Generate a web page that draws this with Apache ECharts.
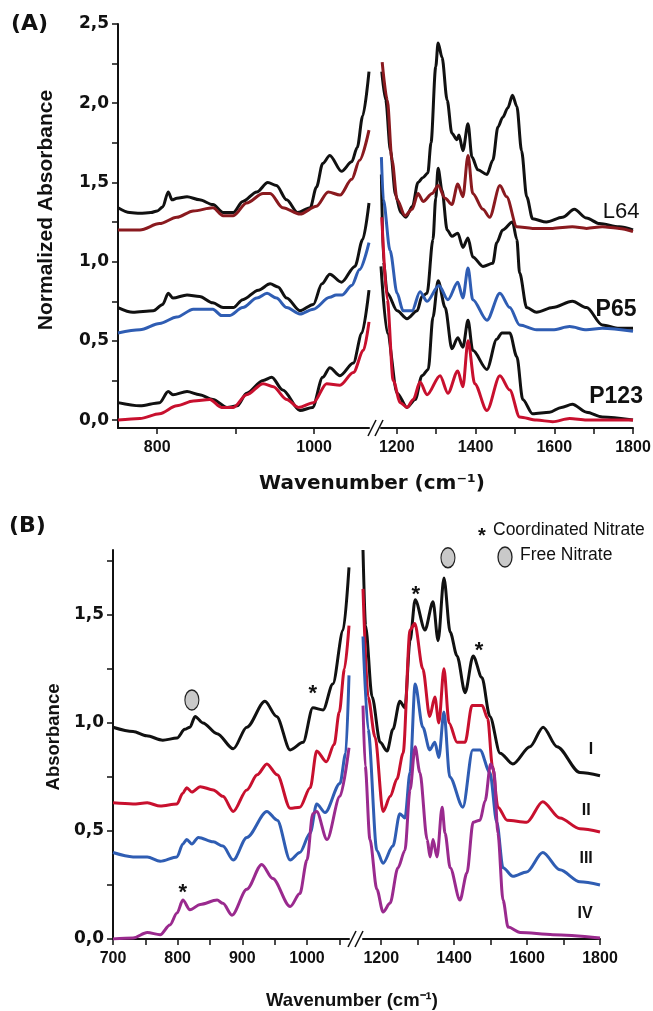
<!DOCTYPE html>
<html><head><meta charset="utf-8">
<script src="https://cdn.jsdelivr.net/npm/echarts@6/dist/echarts.min.js"></script>
<style>html,body{margin:0;padding:0;background:#fff}#c{width:653px;height:1011px}</style>
</head><body><div id="c"></div>
<script>
// ---------- Panel A data (wavenumber, normalized absorbance) ----------
const aL64BlackLeft = [[750,1.34],[765,1.31],[778,1.305],[792,1.31],[800,1.32],[807,1.345],[814,1.44],[819,1.39],[825,1.40],[838,1.41],[854,1.39],[871,1.36],[884,1.31],[897,1.31],[909,1.38],[927,1.44],[941,1.50],[952,1.48],[965,1.39],[979,1.31],[995,1.34],[1003,1.47],[1011,1.62],[1020,1.67],[1035,1.57],[1048,1.63],[1055,1.72],[1062,1.92],[1070,2.20]];
const aL64RedLeft = [[750,1.20],[778,1.20],[803,1.24],[825,1.28],[846,1.32],[871,1.34],[884,1.29],[897,1.29],[914,1.37],[935,1.43],[944,1.43],[960,1.34],[982,1.30],[1003,1.35],[1018,1.44],[1033,1.42],[1048,1.52],[1058,1.64],[1070,1.83]];
const aL64BlackRight = [[1162,2.20],[1172,2.02],[1184,1.70],[1197,1.42],[1210,1.31],[1223,1.28],[1240,1.35],[1254,1.50],[1266,1.53],[1279,1.56],[1287,1.75],[1299,2.23],[1305,2.38],[1315,2.29],[1328,2.02],[1340,1.81],[1353,1.77],[1358,1.80],[1368,1.70],[1381,1.87],[1391,1.66],[1406,1.58],[1429,1.55],[1444,1.64],[1457,1.85],[1469,1.91],[1482,1.97],[1494,2.05],[1505,1.98],[1517,1.70],[1530,1.41],[1545,1.27],[1580,1.25],[1621,1.28],[1651,1.33],[1682,1.275],[1715,1.24],[1765,1.22],[1800,1.20]];
const aL64RedRight = [[1163,2.26],[1176,2.02],[1188,1.64],[1201,1.39],[1221,1.29],[1239,1.33],[1254,1.43],[1267,1.38],[1290,1.43],[1305,1.48],[1323,1.40],[1340,1.36],[1355,1.49],[1368,1.41],[1381,1.67],[1393,1.43],[1419,1.33],[1436,1.28],[1462,1.48],[1479,1.41],[1505,1.22],[1545,1.21],[1596,1.21],[1646,1.22],[1682,1.21],[1722,1.22],[1765,1.21],[1800,1.19]];
const aP65BlackLeft = [[750,0.71],[769,0.68],[795,0.69],[807,0.73],[814,0.80],[820,0.77],[838,0.79],[854,0.78],[871,0.74],[884,0.71],[897,0.71],[909,0.76],[929,0.82],[944,0.86],[954,0.84],[965,0.77],[982,0.69],[999,0.73],[1010,0.86],[1020,0.92],[1035,0.87],[1052,0.97],[1062,1.14],[1070,1.37]];
const aP65BlueLeft = [[750,0.55],[778,0.57],[803,0.61],[825,0.65],[846,0.70],[871,0.70],[882,0.66],[892,0.66],[909,0.71],[927,0.77],[940,0.80],[952,0.77],[965,0.71],[982,0.67],[999,0.70],[1020,0.775],[1028,0.79],[1036,0.79],[1048,0.85],[1058,0.95],[1070,1.12]];
const aP65BlackRight = [[1161,1.55],[1166,1.0],[1176,0.80],[1201,0.69],[1226,0.64],[1252,0.69],[1264,0.78],[1277,0.80],[1292,1.14],[1299,1.40],[1305,1.59],[1315,1.45],[1328,1.20],[1340,1.16],[1355,1.18],[1368,1.09],[1381,1.15],[1393,1.03],[1419,0.97],[1444,0.99],[1454,1.12],[1469,1.20],[1494,1.25],[1505,1.14],[1512,0.93],[1530,0.71],[1555,0.68],[1596,0.71],[1646,0.75],[1682,0.71],[1722,0.60],[1765,0.58],[1800,0.58]];
const aP65BlueRight = [[1161,1.66],[1166,1.39],[1183,1.07],[1201,0.80],[1216,0.69],[1239,0.69],[1259,0.81],[1277,0.75],[1307,0.85],[1330,0.76],[1355,0.87],[1368,0.77],[1381,0.96],[1393,0.76],[1429,0.63],[1462,0.80],[1487,0.71],[1512,0.60],[1555,0.57],[1596,0.57],[1639,0.59],[1682,0.57],[1722,0.58],[1800,0.56]];
const aP123BlackLeft = [[750,0.11],[778,0.09],[803,0.11],[814,0.18],[820,0.16],[838,0.18],[854,0.16],[871,0.13],[889,0.08],[902,0.09],[914,0.17],[935,0.25],[946,0.27],[960,0.19],[982,0.06],[998,0.08],[1011,0.27],[1020,0.33],[1033,0.28],[1050,0.36],[1061,0.55],[1070,0.82]];
const aP123RedLeft = [[750,0.0],[778,0.01],[803,0.04],[825,0.09],[846,0.12],[867,0.13],[882,0.08],[897,0.08],[914,0.16],[935,0.23],[948,0.21],[965,0.13],[980,0.08],[999,0.11],[1016,0.23],[1033,0.22],[1050,0.30],[1063,0.44],[1070,0.62]];
const aP123BlackRight = [[1160,0.97],[1176,0.55],[1201,0.17],[1226,0.08],[1247,0.13],[1264,0.28],[1280,0.32],[1292,0.65],[1305,0.88],[1323,0.71],[1340,0.45],[1355,0.52],[1368,0.46],[1381,0.63],[1393,0.44],[1429,0.32],[1454,0.51],[1467,0.55],[1487,0.55],[1505,0.40],[1520,0.13],[1545,0.04],[1588,0.05],[1618,0.08],[1646,0.10],[1682,0.05],[1722,0.02],[1800,0.0]];
const aP123RedRight = [[1162,1.28],[1176,0.76],[1191,0.25],[1209,0.11],[1226,0.08],[1242,0.13],[1259,0.24],[1277,0.16],[1310,0.28],[1330,0.17],[1355,0.31],[1368,0.21],[1381,0.50],[1398,0.23],[1429,0.06],[1462,0.28],[1487,0.19],[1512,0.02],[1555,0.0],[1596,-0.01],[1639,0.01],[1682,0.0],[1800,0.0]];

// ---------- Panel B data (wavenumber, absorbance) ----------
const bILeft = [[700,0.98],[731,0.96],[752,0.94],[777,0.92],[799,0.93],[811,0.97],[819,0.98],[827,1.03],[839,1.00],[861,0.95],[886,0.88],[907,0.98],[935,1.10],[953,1.03],[974,0.875],[994,0.91],[1009,1.07],[1025,1.06],[1040,1.18],[1056,1.43],[1065,1.72]];
const bIRight = [[1150,1.80],[1157,1.45],[1175,1.12],[1197,0.91],[1216,0.87],[1232,0.97],[1251,1.10],[1265,1.07],[1279,1.38],[1293,1.57],[1320,1.43],[1342,1.56],[1356,1.38],[1372,1.67],[1389,1.42],[1408,1.31],[1430,1.14],[1452,1.31],[1476,1.21],[1498,1.03],[1526,0.86],[1561,0.81],[1608,0.89],[1644,0.98],[1682,0.89],[1745,0.77],[1800,0.755]];
const bIILeft = [[700,0.63],[731,0.625],[753,0.63],[773,0.615],[799,0.625],[808,0.675],[814,0.70],[822,0.68],[835,0.705],[855,0.69],[870,0.66],[886,0.59],[907,0.69],[923,0.76],[938,0.81],[954,0.76],[974,0.605],[989,0.61],[1005,0.70],[1015,0.87],[1030,0.82],[1042,0.90],[1050,1.05],[1058,1.25],[1065,1.45]];
const bIIRight = [[1150,1.62],[1164,1.12],[1183,0.935],[1205,0.59],[1225,0.66],[1243,0.74],[1260,0.86],[1279,1.43],[1292,1.46],[1314,1.25],[1333,1.03],[1347,1.12],[1358,1.00],[1372,1.25],[1386,1.00],[1408,0.91],[1430,0.91],[1449,1.08],[1477,1.08],[1492,1.02],[1505,0.80],[1520,0.61],[1545,0.55],[1599,0.54],[1643,0.635],[1690,0.56],[1745,0.51],[1800,0.495]];
const bIIILeft = [[700,0.40],[731,0.38],[753,0.38],[773,0.36],[799,0.38],[808,0.44],[814,0.46],[822,0.44],[832,0.47],[855,0.45],[870,0.43],[886,0.365],[907,0.47],[938,0.59],[954,0.55],[974,0.365],[989,0.40],[1005,0.49],[1015,0.625],[1028,0.585],[1051,0.72],[1060,0.86],[1065,1.22]];
const bIIIRight = [[1150,1.40],[1164,0.97],[1188,0.41],[1205,0.35],[1232,0.43],[1251,0.58],[1265,0.56],[1279,0.77],[1293,1.18],[1314,0.98],[1333,0.875],[1347,0.91],[1358,0.84],[1372,1.05],[1388,0.75],[1424,0.61],[1451,0.875],[1471,0.875],[1498,0.77],[1517,0.54],[1534,0.33],[1561,0.29],[1599,0.31],[1643,0.40],[1690,0.32],[1745,0.265],[1800,0.25]];
const bIVLeft = [[700,0.0],[731,0.005],[753,0.03],[773,0.02],[788,0.065],[799,0.12],[808,0.18],[819,0.135],[835,0.16],[861,0.18],[870,0.165],[884,0.11],[907,0.23],[930,0.345],[947,0.28],[974,0.15],[989,0.21],[1000,0.365],[1009,0.58],[1015,0.59],[1031,0.46],[1051,0.66],[1065,0.885]];
const bIVRight = [[1150,1.08],[1156,0.80],[1169,0.46],[1188,0.23],[1205,0.125],[1224,0.165],[1246,0.33],[1265,0.41],[1279,0.69],[1293,0.89],[1306,0.77],[1326,0.46],[1334,0.38],[1342,0.46],[1353,0.38],[1367,0.61],[1375,0.49],[1389,0.33],[1416,0.18],[1435,0.305],[1452,0.54],[1471,0.55],[1485,0.64],[1500,0.81],[1509,0.78],[1520,0.49],[1534,0.18],[1548,0.055],[1581,0.03],[1671,0.02],[1800,0.005]];

// ---------- tick values ----------
const aXLabelsLeft = [800, 1000];
const aXTicksLeft = [800, 900, 1000];
const aXLabelsRight = [1200, 1400, 1600, 1800];
const aXTicksRight = [1200, 1300, 1400, 1500, 1600, 1700, 1800];
const aYLabels = [0, 0.5, 1.0, 1.5, 2.0, 2.5];
const aYTicks = [0, 0.25, 0.5, 0.75, 1.0, 1.25, 1.5, 1.75, 2.0, 2.25, 2.5];
const bXLabelsLeft = [700, 800, 900, 1000];
const bXTicksLeft = [700, 750, 800, 850, 900, 950, 1000, 1050];
const bXLabelsRight = [1200, 1400, 1600, 1800];
const bXTicksRight = [1200, 1300, 1400, 1500, 1600, 1700, 1800];
const bYLabels = [0, 0.5, 1.0, 1.5];
const bYTicks = [0, 0.25, 0.5, 0.75, 1.0, 1.25, 1.5, 1.75];

// ---------- annotation texts ----------
const aCurveNames = ['L64', 'P65', 'P123'];
const bCurveNames = ['I', 'II', 'III', 'IV'];

// ---------- layout ----------
const G = {
  aL: {left: 118, top: 24, width: 251, height: 404},
  aR: {left: 381, top: 24, width: 252, height: 404},
  bL: {left: 113, top: 550, width: 236, height: 389},
  bR: {left: 363, top: 550, width: 237, height: 389}
};
const BLACK = '#111111', DRED = '#8a1a1f', BLUE = '#2f5db3', RED = '#c8102e', PURPLE = '#9a2a8e';
const comma = v => v.toFixed(1).replace('.', ',');

const chart = echarts.init(document.getElementById('c'), null, {renderer: 'canvas'});

function xAx(gi, min, max, labels, ticks) {
  return {
    type: 'value', gridIndex: gi, min, max,
    axisLine: {show: true, onZero: false, lineStyle: {color: BLACK, width: 2}},
    axisTick: {show: true, inside: false, length: 6, customValues: ticks, lineStyle: {color: BLACK, width: 1.5}},
    axisLabel: {show: true, customValues: labels, margin: 12, color: BLACK,
      fontFamily: 'Liberation Sans', fontWeight: 'bold', fontSize: 16, formatter: v => String(v)},
    splitLine: {show: false}
  };
}
function yAx(gi, min, max, labels, ticks, show) {
  return {
    type: 'value', gridIndex: gi, min, max, show,
    axisLine: {show: true, onZero: false, lineStyle: {color: BLACK, width: 2}},
    axisTick: {show: true, inside: false, length: 6, customValues: ticks, lineStyle: {color: BLACK, width: 1.5}},
    axisLabel: {show: true, customValues: labels, margin: 9, color: BLACK,
      fontFamily: 'DejaVu Sans', fontWeight: 'bold', fontSize: 17, formatter: comma},
    splitLine: {show: false}
  };
}
function line(data, color, idx, z) {
  return {type: 'line', xAxisIndex: idx, yAxisIndex: idx, data, symbol: 'none', showSymbol: false,
    smooth: 0.3, smoothMonotone: 'x', lineStyle: {color, width: 3}, itemStyle: {color}, z: z, animation: false};
}
function annot(idx, items) {
  return {type: 'scatter', xAxisIndex: idx, yAxisIndex: idx, symbolSize: 1, z: 10, animation: false,
    itemStyle: {color: 'rgba(255,255,255,0)', opacity: 1}, silent: true, emphasis: {disabled: true}, data: items};
}
const baseLabel = {show: true, position: 'inside', color: BLACK, opacity: 1, textBorderWidth: 0, textShadowBlur: 0};
const txt = (name, x, y, font) => ({name, value: [x, y], label: Object.assign({}, baseLabel, {formatter: '{b}'}, font)});
const star = (x, y) => ({name: '*', value: [x, y], label: Object.assign({}, baseLabel, {formatter: '*', fontFamily: 'Liberation Sans', fontWeight: 'bold', fontSize: 22, offset: [0, 6]})});
const oval = (x, y) => ({value: [x, y], symbol: 'circle', symbolSize: [14, 20], itemStyle: {color: '#c9c9c9', borderColor: '#222', borderWidth: 1.3, opacity: 1}});

const fontBigBold = {fontFamily: 'Liberation Sans', fontWeight: 'bold', fontSize: 23};
const fontBig = {fontFamily: 'Liberation Sans', fontWeight: 'normal', fontSize: 22};
const fontRoman = {fontFamily: 'Liberation Sans', fontWeight: 'bold', fontSize: 16};

function slash(cx, cy) {
  return {type: 'line', shape: {x1: cx - 4, y1: cy + 8, x2: cx + 4, y2: cy - 8}, style: {stroke: BLACK, lineWidth: 1.6}, z: 20};
}
const aAxisY = G.aL.top + G.aL.height, bAxisY = G.bL.top + G.bL.height;
const aGap = [G.aL.left + G.aL.width, G.aR.left], bGap = [G.bL.left + G.bL.width, G.bR.left];

const option = {
  backgroundColor: '#ffffff',
  animation: false,
  grid: [
    Object.assign({containLabel: false, outerBoundsMode: 'none'}, G.aL),
    Object.assign({containLabel: false, outerBoundsMode: 'none'}, G.aR),
    Object.assign({containLabel: false, outerBoundsMode: 'none'}, G.bL),
    Object.assign({containLabel: false, outerBoundsMode: 'none'}, G.bR)
  ],
  xAxis: [
    xAx(0, 750, 1070, aXLabelsLeft, aXTicksLeft),
    xAx(1, 1160, 1800, aXLabelsRight, aXTicksRight),
    xAx(2, 700, 1065, bXLabelsLeft, bXTicksLeft),
    xAx(3, 1150, 1800, bXLabelsRight, bXTicksRight)
  ],
  yAxis: [
    yAx(0, -0.05, 2.5, aYLabels, aYTicks, true),
    yAx(1, -0.05, 2.5, aYLabels, aYTicks, false),
    yAx(2, 0, 1.8, bYLabels, bYTicks, true),
    yAx(3, 0, 1.8, bYLabels, bYTicks, false)
  ],
  series: [
    line(aL64BlackLeft, BLACK, 0, 2), line(aL64RedLeft, DRED, 0, 3),
    line(aP65BlackLeft, BLACK, 0, 2), line(aP65BlueLeft, BLUE, 0, 3),
    line(aP123BlackLeft, BLACK, 0, 2), line(aP123RedLeft, RED, 0, 3),
    line(aL64BlackRight, BLACK, 1, 2), line(aL64RedRight, DRED, 1, 3),
    line(aP65BlackRight, BLACK, 1, 2), line(aP65BlueRight, BLUE, 1, 3),
    line(aP123BlackRight, BLACK, 1, 2), line(aP123RedRight, RED, 1, 3),
    line(bILeft, BLACK, 2, 2), line(bIILeft, RED, 2, 3), line(bIIILeft, BLUE, 2, 4), line(bIVLeft, PURPLE, 2, 5),
    line(bIRight, BLACK, 3, 2), line(bIIRight, RED, 3, 3), line(bIIIRight, BLUE, 3, 4), line(bIVRight, PURPLE, 3, 5),
    annot(1, [
      txt(aCurveNames[0], 1770, 1.314, fontBig),
      txt(aCurveNames[1], 1757, 0.698, fontBigBold),
      txt(aCurveNames[2], 1757, 0.148, fontBigBold)
    ]),
    annot(3, [
      txt(bCurveNames[0], 1775, 0.875, fontRoman),
      txt(bCurveNames[1], 1762, 0.593, fontRoman),
      txt(bCurveNames[2], 1762, 0.37, fontRoman),
      txt(bCurveNames[3], 1759, 0.116, fontRoman),
      star(1295, 1.62), star(1468, 1.36), oval(1383, 1.764)
    ]),
    annot(2, [star(1009, 1.16), star(808, 0.24), oval(822, 1.106)])
  ],
  graphic: [
    {type: 'text', left: 11, top: 13, style: {text: '(A)', font: 'bold 22px "DejaVu Sans"', fill: BLACK}},
    {type: 'text', left: 9, top: 515, style: {text: '(B)', font: 'bold 22px "DejaVu Sans"', fill: BLACK}},
    {type: 'text', x: 46, y: 210, rotation: Math.PI / 2, style: {text: 'Normalized Absorbance', font: 'bold 21px "Liberation Sans"', fill: BLACK, align: 'center', verticalAlign: 'middle'}},
    {type: 'text', x: 54, y: 737, rotation: Math.PI / 2, style: {text: 'Absorbance', font: 'bold 18.5px "Liberation Sans"', fill: BLACK, align: 'center', verticalAlign: 'middle'}},
    {type: 'text', x: 372, y: 484, style: {text: 'Wavenumber (cm\u207B\u00B9)', font: 'bold 20px "DejaVu Sans"', fill: BLACK, align: 'center', verticalAlign: 'middle'}},
    {type: 'text', x: 352, y: 1001, style: {text: 'Wavenumber (cm\u207B\u00B9)', font: 'bold 18.5px "Liberation Sans"', fill: BLACK, align: 'center', verticalAlign: 'middle'}},
    slash(aGap[0] + 3, aAxisY), slash(aGap[0] + 10, aAxisY),
    slash(bGap[0] + 3, bAxisY), slash(bGap[0] + 10, bAxisY),
    {type: 'text', x: 482, y: 536, style: {text: '*', font: 'bold 20px "Liberation Sans"', fill: BLACK, align: 'center', verticalAlign: 'middle'}},
    {type: 'text', x: 493, y: 530, style: {text: 'Coordinated Nitrate', font: '17.5px "Liberation Sans"', fill: BLACK, align: 'left', verticalAlign: 'middle'}},
    {type: 'ellipse', shape: {cx: 505, cy: 557, rx: 7, ry: 10}, style: {fill: '#c9c9c9', stroke: '#222', lineWidth: 1.3}},
    {type: 'text', x: 520, y: 555, style: {text: 'Free Nitrate', font: '17.5px "Liberation Sans"', fill: BLACK, align: 'left', verticalAlign: 'middle'}}
  ]
};
chart.setOption(option);
</script></body></html>
